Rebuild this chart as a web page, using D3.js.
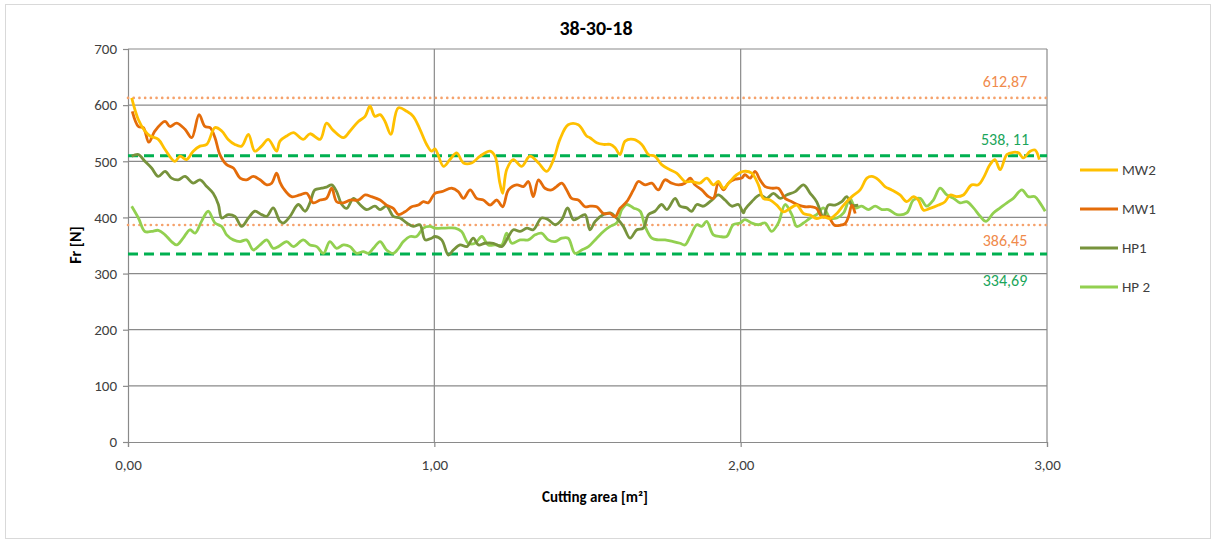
<!DOCTYPE html>
<html>
<head>
<meta charset="utf-8">
<script src="https://cdn.jsdelivr.net/npm/d3@7"></script>
<style>
  body { margin: 0; background: #fff; }
  svg text { font-family: Carlito, "Liberation Sans Narrow", "Liberation Sans", sans-serif; }
</style>
</head>
<body>
<svg class="chart" width="1212" height="542"></svg>
<script>
// Fr over cutting area, four tools

const seriesNames = ["MW2", "MW1", "HP1", "HP 2"];

// [cutting area m², Fr N]
const mw2 = [[0.012,613],[0.034,574],[0.055,554],[0.072,545],[0.099,539],[0.121,521],[0.153,500],[0.170,509],[0.191,503],[0.213,518],[0.235,527],[0.257,530],[0.284,560],[0.306,554],[0.327,539],[0.349,530],[0.371,527],[0.393,548],[0.414,518],[0.436,527],[0.458,539],[0.485,518],
  [0.496,536],[0.518,545],[0.540,551],[0.572,539],[0.594,549],[0.627,539],[0.648,568],[0.670,555],[0.703,542],[0.725,554],[0.752,571],[0.774,580],[0.790,598],[0.806,580],[0.823,583],[0.839,571],[0.858,548],[0.882,595],[0.910,589],[0.931,580],[0.953,557],[0.975,530],[0.991,518],
  [1.002,522],[1.030,491],[1.051,503],[1.073,515],[1.095,497],[1.122,497],[1.149,509],[1.182,518],[1.198,509],[1.214,461],[1.223,443],[1.236,485],[1.258,503],[1.285,491],[1.312,509],[1.340,497],[1.367,482],[1.389,503],[1.410,539],[1.437,565],[1.470,565],[1.497,545],
  [1.508,542],[1.530,533],[1.552,530],[1.574,530],[1.590,524],[1.606,512],[1.623,536],[1.650,539],[1.677,530],[1.699,512],[1.720,509],[1.742,494],[1.769,485],[1.791,479],[1.818,464],[1.840,464],[1.867,461],[1.889,470],[1.911,458],[1.927,464],[1.944,452],[1.965,464],[1.987,476],[2.009,482],
  [2.036,479],[2.058,458],[2.074,434],[2.096,431],[2.118,422],[2.140,410],[2.161,416],[2.183,422],[2.205,407],[2.227,404],[2.248,398],[2.270,401],[2.292,398],[2.314,407],[2.336,422],[2.363,437],[2.390,449],[2.412,470],[2.428,473],[2.450,467],[2.471,455],[2.493,449],
  [2.520,440],[2.542,428],[2.564,437],[2.580,431],[2.597,413],[2.618,416],[2.646,422],[2.667,428],[2.684,440],[2.705,437],[2.727,440],[2.754,458],[2.776,458],[2.792,470],[2.814,494],[2.830,503],[2.847,485],[2.869,512],[2.890,516],[2.907,515],[2.923,506],[2.945,518],[2.961,520],[2.975,503]];

const mw1 = [[0.014,589],[0.034,562],[0.050,560],[0.068,534],[0.088,554],[0.121,571],[0.137,562],[0.159,568],[0.186,557],[0.208,542],[0.232,583],[0.251,562],[0.268,560],[0.284,542],[0.300,512],[0.322,494],[0.344,488],[0.366,470],[0.387,467],[0.409,473],[0.431,467],[0.453,458],[0.469,461],[0.485,479],
  [0.496,463],[0.507,452],[0.534,437],[0.561,440],[0.583,443],[0.605,426],[0.627,431],[0.648,434],[0.665,452],[0.681,428],[0.703,426],[0.725,431],[0.752,431],[0.774,440],[0.795,437],[0.823,431],[0.844,422],[0.866,416],[0.883,405],[0.904,410],[0.926,419],[0.948,422],[0.964,428],[0.980,426],
  [1.002,443],[1.024,446],[1.057,452],[1.078,446],[1.095,434],[1.117,449],[1.138,434],[1.160,431],[1.182,422],[1.204,431],[1.223,419],[1.242,449],[1.269,458],[1.291,455],[1.307,464],[1.323,437],[1.340,467],[1.361,452],[1.383,449],[1.399,455],[1.416,461],[1.432,449],[1.448,434],[1.470,431],[1.492,419],
  [1.508,420],[1.530,419],[1.552,407],[1.574,407],[1.590,401],[1.606,416],[1.628,428],[1.650,449],[1.666,464],[1.688,458],[1.710,461],[1.731,449],[1.753,467],[1.775,461],[1.797,458],[1.818,461],[1.835,470],[1.851,458],[1.873,449],[1.895,437],[1.911,434],[1.927,461],[1.944,449],[1.960,461],[1.982,468],[2.003,470],
  [2.014,476],[2.031,470],[2.047,482],[2.063,467],[2.080,455],[2.101,452],[2.123,452],[2.145,434],[2.167,428],[2.189,422],[2.210,419],[2.232,419],[2.248,416],[2.265,401],[2.286,401],[2.306,386],[2.325,386],[2.341,389],[2.352,401],[2.363,422],[2.374,407]];

const hp1 = [[0.012,509],[0.034,512],[0.055,500],[0.077,488],[0.099,473],[0.121,482],[0.142,470],[0.164,467],[0.186,473],[0.213,461],[0.235,467],[0.257,455],[0.278,443],[0.295,423],[0.306,399],[0.327,405],[0.349,402],[0.371,384],[0.393,399],[0.414,411],[0.436,405],[0.453,402],[0.474,417],
  [0.496,393],[0.507,390],[0.529,402],[0.556,423],[0.578,411],[0.594,426],[0.610,449],[0.632,452],[0.648,454],[0.665,458],[0.681,446],[0.698,423],[0.714,416],[0.736,434],[0.757,423],[0.779,414],[0.806,420],[0.823,414],[0.844,420],[0.866,402],[0.888,399],[0.910,390],[0.931,384],[0.953,387],[0.970,360],[0.991,363],
  [1.002,366],[1.024,360],[1.046,333],[1.062,342],[1.084,351],[1.106,348],[1.127,363],[1.144,351],[1.165,354],[1.193,354],[1.220,348],[1.242,366],[1.258,378],[1.280,375],[1.302,381],[1.323,378],[1.350,399],[1.372,396],[1.394,387],[1.416,396],[1.435,417],[1.454,396],[1.470,399],[1.492,405],
  [1.508,378],[1.525,393],[1.552,405],[1.574,408],[1.595,399],[1.617,384],[1.639,363],[1.661,378],[1.682,381],[1.699,405],[1.720,411],[1.742,423],[1.759,414],[1.786,434],[1.802,420],[1.824,417],[1.840,411],[1.857,423],[1.878,420],[1.906,431],[1.927,440],[1.949,431],[1.971,420],[1.993,423],[2.009,408],
  [2.014,414],[2.036,428],[2.063,440],[2.085,434],[2.107,443],[2.129,434],[2.150,440],[2.178,446],[2.205,458],[2.227,443],[2.248,428],[2.270,401],[2.286,422],[2.308,422],[2.330,428],[2.346,437],[2.363,422],[2.384,422]];

const hp2 = [[0.012,420],[0.034,399],[0.055,375],[0.077,375],[0.099,377],[0.121,369],[0.142,357],[0.159,351],[0.180,363],[0.202,378],[0.219,372],[0.240,393],[0.262,411],[0.284,390],[0.306,384],[0.322,369],[0.344,360],[0.366,357],[0.387,360],[0.409,342],[0.431,351],[0.453,360],[0.474,345],[0.491,348],
  [0.518,357],[0.540,348],[0.572,360],[0.594,351],[0.616,348],[0.638,336],[0.659,357],[0.681,345],[0.703,351],[0.725,348],[0.746,336],[0.768,339],[0.785,336],[0.801,345],[0.823,357],[0.844,342],[0.866,336],[0.883,345],[0.899,357],[0.921,366],[0.942,366],[0.964,381],[0.986,384],
  [1.002,381],[1.035,381],[1.068,381],[1.089,375],[1.111,354],[1.133,354],[1.155,366],[1.176,351],[1.198,351],[1.220,351],[1.236,372],[1.253,354],[1.280,360],[1.307,360],[1.329,369],[1.350,372],[1.372,360],[1.394,357],[1.416,363],[1.437,363],[1.459,336],[1.481,342],[1.503,348],
  [1.530,363],[1.552,375],[1.574,384],[1.595,390],[1.612,414],[1.628,423],[1.650,417],[1.672,411],[1.688,384],[1.710,363],[1.731,360],[1.753,360],[1.780,357],[1.802,354],[1.818,351],[1.835,366],[1.857,387],[1.873,384],[1.889,393],[1.911,369],[1.933,366],[1.954,366],[1.976,387],[1.998,390],
  [2.014,396],[2.036,390],[2.058,387],[2.080,390],[2.101,375],[2.123,390],[2.145,423],[2.167,405],[2.183,384],[2.205,390],[2.227,399],[2.248,405],[2.270,417],[2.292,399],[2.314,399],[2.336,408],[2.357,434],[2.374,417],[2.395,420],[2.417,414],[2.439,420],[2.461,414],[2.482,414],[2.510,405],
  [2.542,408],[2.564,431],[2.586,434],[2.607,420],[2.629,431],[2.651,452],[2.673,440],[2.695,434],[2.716,426],[2.738,428],[2.760,417],[2.782,402],[2.801,393],[2.825,408],[2.847,417],[2.869,426],[2.890,434],[2.918,449],[2.939,437],[2.961,437],[2.977,426],[2.994,411]];

// reference lines: position, label as printed
const refValues = [612.87, 510, 386.45, 334.69];
const refLabels = ["612,87", "538, 11", "386,45", "334,69"];

const xTicks = [0, 1, 2, 3];
const yTicks = [0, 100, 200, 300, 400, 500, 600, 700];

const colors = ["#FFC000", "#E46C0A", "#77933C", "#92D050"];
const refColors = ["#F5A26C", "#00B050", "#F5A26C", "#00B050"];
const refText = ["#F08A4B", "#1AA55A", "#F08A4B", "#1AA55A"];

const svg = d3.select(".chart");

svg.append("rect")
    .attr("x", 5.5).attr("y", 4.5)
    .attr("width", 1205).attr("height", 534)
    .attr("fill", "#fff")
    .attr("stroke", "#d9d9d9");

const x = d3.scaleLinear().domain([0, 3]).range([128, 1047]);
const y = d3.scaleLinear().domain([0, 700]).range([442, 49]);

// gitter
svg.append("g").selectAll("line")
    .data(yTicks.slice(1)).enter()
    .append("line")
    .attr("x1", x(0)).attr("x2", x(3))
    .attr("y1", d => y(d)).attr("y2", d => y(d))
    .attr("stroke", "#8a8a8a").attr("stroke-width", 1.2);

svg.append("g").selectAll("line")
    .data(xTicks.slice(1)).enter()
    .append("line")
    .attr("x1", d => x(d)).attr("x2", d => x(d))
    .attr("y1", y(0)).attr("y2", y(700))
    .attr("stroke", "#8a8a8a").attr("stroke-width", 1.2);

// achsen
const yAxis = svg.append("g")
    .attr("transform", "translate(" + x(0) + ",0)")
    .call(d3.axisLeft(y).tickValues(yTicks).tickSize(5).tickPadding(6));

const xAxis = svg.append("g")
    .attr("transform", "translate(0," + y(0) + ")")
    .call(d3.axisBottom(x).tickValues(xTicks).tickSize(5).tickPadding(12)
        .tickFormat(d => d3.format(".2f")(d).replace(".", ",")));

[yAxis, xAxis].forEach(function (a) {
    a.select(".domain").attr("stroke", "#8a8a8a").attr("stroke-width", 1.2);
    a.selectAll(".tick line").attr("stroke", "#8a8a8a").attr("stroke-width", 1.2);
    a.selectAll(".tick text")
        .attr("font-family", "Carlito, 'Liberation Sans Narrow', 'Liberation Sans', sans-serif")
        .attr("font-size", "15px")
        .attr("fill", "#404040");
});

// referenzlinien
svg.append("g").selectAll("line")
    .data(refValues).enter()
    .append("line")
    .attr("x1", x(0)).attr("x2", x(3))
    .attr("y1", d => y(d)).attr("y2", d => y(d))
    .attr("stroke", (d, i) => refColors[i])
    .attr("stroke-width", (d, i) => i % 2 ? 3 : 2.6)
    .attr("stroke-dasharray", (d, i) => i % 2 ? "10,6" : "0.1,5.6")
    .attr("stroke-linecap", (d, i) => i % 2 ? "butt" : "round");

const labelShift = [-11, -11, 21, 32];
svg.append("g").selectAll("text")
    .data(refValues).enter()
    .append("text")
    .attr("x", 1005)
    .attr("y", (d, i) => y(d) + labelShift[i])
    .attr("text-anchor", "middle")
    .attr("font-size", "16px")
    .attr("fill", (d, i) => refText[i])
    .text((d, i) => refLabels[i]);

// kurven
const line = d3.line()
    .x(d => x(d[0]))
    .y(d => y(d[1]))
    .curve(d3.curveCatmullRom.alpha(0.5));

const allSeries = [hp2, hp1, mw1, mw2];
const order = [3, 2, 1, 0];
svg.append("g").selectAll("path")
    .data(allSeries).enter()
    .append("path")
    .attr("d", line)
    .attr("fill", "none")
    .attr("stroke", (d, i) => colors[order[i]])
    .attr("stroke-width", 2.8)
    .attr("stroke-linejoin", "round");

// titel
svg.append("text")
    .attr("x", 596).attr("y", 35)
    .attr("text-anchor", "middle")
    .attr("font-size", "20px")
    .attr("font-weight", "bold")
    .attr("fill", "#000")
    .text("38-30-18");

svg.append("text")
    .attr("transform", "translate(81,245) rotate(-90)")
    .attr("text-anchor", "middle")
    .attr("font-size", "16px")
    .attr("font-weight", "bold")
    .attr("fill", "#000")
    .text("Fr [N]");

svg.append("text")
    .attr("x", 595).attr("y", 502)
    .attr("text-anchor", "middle")
    .attr("font-size", "15px")
    .attr("font-weight", "bold")
    .attr("fill", "#000")
    .text("Cutting area [m²]");

// legende
const legend = svg.append("g").attr("transform", "translate(1080,170)");

legend.selectAll("line")
    .data(seriesNames).enter()
    .append("line")
    .attr("x1", 0).attr("x2", 38)
    .attr("y1", (d, i) => i * 39).attr("y2", (d, i) => i * 39)
    .attr("stroke", (d, i) => colors[i])
    .attr("stroke-width", 2.8);

legend.selectAll("text")
    .data(seriesNames).enter()
    .append("text")
    .attr("x", 42)
    .attr("y", (d, i) => i * 39)
    .attr("dy", "0.35em")
    .attr("font-size", "15px")
    .attr("fill", "#404040")
    .text(d => d);
</script>
</body>
</html>
